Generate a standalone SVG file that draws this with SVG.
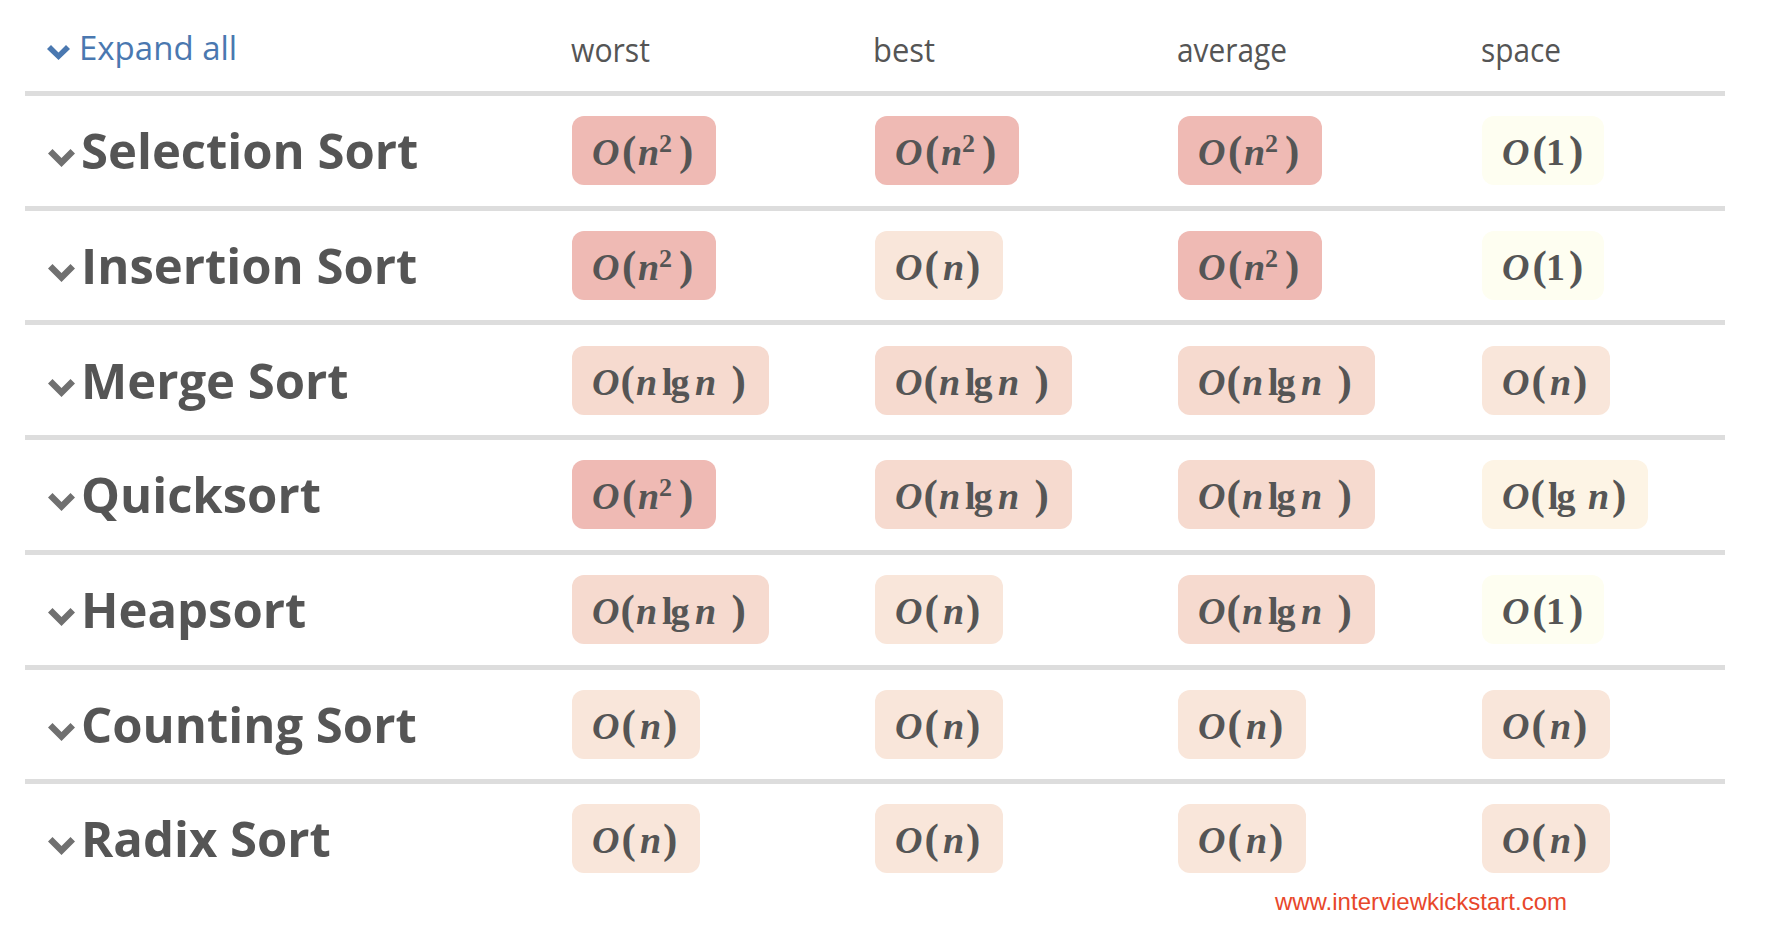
<svg xmlns="http://www.w3.org/2000/svg" width="1776" height="938" viewBox="0 0 1776 938">
<style>
.hd{font-family:"Open Sans","Noto Sans",sans-serif;font-size:32px;fill:#555}
.ex{font-family:"Open Sans","Noto Sans",sans-serif;font-size:33px;fill:#4a78b0}
.lb{font-family:"Open Sans","Noto Sans",sans-serif;font-size:49px;font-weight:bold;fill:#555}
.m{font-family:"Liberation Serif",serif;font-size:38px;font-weight:bold;fill:#555}
.i{font-style:italic}
.p{font-size:43px}
.sup{font-size:26px}
.sep{fill:#dddddd}
.chev{fill:#707070}
.b-n2{fill:#efbab4}
.b-nlgn{fill:#f6dacf}
.b-n{fill:#f9e6da}
.b-lgn{fill:#fdf4e5}
.b-1{fill:#fefef1}
.wm{font-family:"Liberation Sans",Arial,sans-serif;font-size:24px;fill:#e8472b}
</style>
<rect width="1776" height="938" fill="#ffffff"/>

<g id="header">
<polygon points="47,49 51,45 58.5,52.5 66,45 70,49 58.5,60" fill="#4a78b0"/>
<text class="ex" x="79" y="60">Expand all</text>
<text class="hd" x="571" y="62" textLength="79" lengthAdjust="spacingAndGlyphs">worst</text>
<text class="hd" x="873" y="62" textLength="62" lengthAdjust="spacingAndGlyphs">best</text>
<text class="hd" x="1177" y="62" textLength="110" lengthAdjust="spacingAndGlyphs">average</text>
<text class="hd" x="1481" y="62" textLength="80" lengthAdjust="spacingAndGlyphs">space</text>
</g>

<g id="separators">
<rect class="sep" x="25" y="91" width="1700" height="5"/>
<rect class="sep" x="25" y="206" width="1700" height="5"/>
<rect class="sep" x="25" y="320" width="1700" height="5"/>
<rect class="sep" x="25" y="435" width="1700" height="5"/>
<rect class="sep" x="25" y="550" width="1700" height="5"/>
<rect class="sep" x="25" y="665" width="1700" height="5"/>
<rect class="sep" x="25" y="779" width="1700" height="5"/>
</g>

<g id="row-selection">
<polygon class="chev" points="48,153.5 52.5,149 61.5,158 70.5,149 75,153.5 61.5,167"/>
<text class="lb" x="81" y="169">Selection Sort</text>
<g transform="translate(572,116)"><rect class="b-n2" width="144" height="69" rx="12"/><text class="m" y="48.5"><tspan class="i" x="20">O</tspan><tspan class="p" x="50">(</tspan><tspan class="i" x="66">n</tspan><tspan class="sup" x="87" y="35.5">2</tspan><tspan class="p" x="107" y="48.5">)</tspan></text></g>
<g transform="translate(875,116)"><rect class="b-n2" width="144" height="69" rx="12"/><text class="m" y="48.5"><tspan class="i" x="20">O</tspan><tspan class="p" x="50">(</tspan><tspan class="i" x="66">n</tspan><tspan class="sup" x="87" y="35.5">2</tspan><tspan class="p" x="107" y="48.5">)</tspan></text></g>
<g transform="translate(1178,116)"><rect class="b-n2" width="144" height="69" rx="12"/><text class="m" y="48.5"><tspan class="i" x="20">O</tspan><tspan class="p" x="50">(</tspan><tspan class="i" x="66">n</tspan><tspan class="sup" x="87" y="35.5">2</tspan><tspan class="p" x="107" y="48.5">)</tspan></text></g>
<g transform="translate(1482,116)"><rect class="b-1" width="122" height="69" rx="12"/><text class="m" y="48.5"><tspan class="i" x="20">O</tspan><tspan class="p" x="50.5">(</tspan><tspan x="64">1</tspan><tspan class="p" x="87">)</tspan></text></g>
</g>

<g id="row-insertion">
<polygon class="chev" points="48,268.5 52.5,264 61.5,273 70.5,264 75,268.5 61.5,282"/>
<text class="lb" x="81" y="284">Insertion Sort</text>
<g transform="translate(572,231)"><rect class="b-n2" width="144" height="69" rx="12"/><text class="m" y="48.5"><tspan class="i" x="20">O</tspan><tspan class="p" x="50">(</tspan><tspan class="i" x="66">n</tspan><tspan class="sup" x="87" y="35.5">2</tspan><tspan class="p" x="107" y="48.5">)</tspan></text></g>
<g transform="translate(875,231)"><rect class="b-n" width="128" height="69" rx="12"/><text class="m" y="48.5"><tspan class="i" x="20">O</tspan><tspan class="p" x="49.5">(</tspan><tspan class="i" x="68">n</tspan><tspan class="p" x="91">)</tspan></text></g>
<g transform="translate(1178,231)"><rect class="b-n2" width="144" height="69" rx="12"/><text class="m" y="48.5"><tspan class="i" x="20">O</tspan><tspan class="p" x="50">(</tspan><tspan class="i" x="66">n</tspan><tspan class="sup" x="87" y="35.5">2</tspan><tspan class="p" x="107" y="48.5">)</tspan></text></g>
<g transform="translate(1482,231)"><rect class="b-1" width="122" height="69" rx="12"/><text class="m" y="48.5"><tspan class="i" x="20">O</tspan><tspan class="p" x="50.5">(</tspan><tspan x="64">1</tspan><tspan class="p" x="87">)</tspan></text></g>
</g>

<g id="row-merge">
<polygon class="chev" points="48,383.5 52.5,379 61.5,388 70.5,379 75,383.5 61.5,397"/>
<text class="lb" x="81" y="399">Merge Sort</text>
<g transform="translate(572,346)"><rect class="b-nlgn" width="197" height="69" rx="12"/><text class="m" y="48.5"><tspan class="i" x="20">O</tspan><tspan class="p" x="48.5">(</tspan><tspan class="i" x="64">n</tspan><tspan x="90">l</tspan><tspan x="98.5">g</tspan><tspan class="i" x="123">n</tspan><tspan class="p" x="159.5">)</tspan></text></g>
<g transform="translate(875,346)"><rect class="b-nlgn" width="197" height="69" rx="12"/><text class="m" y="48.5"><tspan class="i" x="20">O</tspan><tspan class="p" x="48.5">(</tspan><tspan class="i" x="64">n</tspan><tspan x="90">l</tspan><tspan x="98.5">g</tspan><tspan class="i" x="123">n</tspan><tspan class="p" x="159.5">)</tspan></text></g>
<g transform="translate(1178,346)"><rect class="b-nlgn" width="197" height="69" rx="12"/><text class="m" y="48.5"><tspan class="i" x="20">O</tspan><tspan class="p" x="48.5">(</tspan><tspan class="i" x="64">n</tspan><tspan x="90">l</tspan><tspan x="98.5">g</tspan><tspan class="i" x="123">n</tspan><tspan class="p" x="159.5">)</tspan></text></g>
<g transform="translate(1482,346)"><rect class="b-n" width="128" height="69" rx="12"/><text class="m" y="48.5"><tspan class="i" x="20">O</tspan><tspan class="p" x="49.5">(</tspan><tspan class="i" x="68">n</tspan><tspan class="p" x="91">)</tspan></text></g>
</g>

<g id="row-quicksort">
<polygon class="chev" points="48,497.5 52.5,493 61.5,502 70.5,493 75,497.5 61.5,511"/>
<text class="lb" x="81" y="513">Quicksort</text>
<g transform="translate(572,460)"><rect class="b-n2" width="144" height="69" rx="12"/><text class="m" y="48.5"><tspan class="i" x="20">O</tspan><tspan class="p" x="50">(</tspan><tspan class="i" x="66">n</tspan><tspan class="sup" x="87" y="35.5">2</tspan><tspan class="p" x="107" y="48.5">)</tspan></text></g>
<g transform="translate(875,460)"><rect class="b-nlgn" width="197" height="69" rx="12"/><text class="m" y="48.5"><tspan class="i" x="20">O</tspan><tspan class="p" x="48.5">(</tspan><tspan class="i" x="64">n</tspan><tspan x="90">l</tspan><tspan x="98.5">g</tspan><tspan class="i" x="123">n</tspan><tspan class="p" x="159.5">)</tspan></text></g>
<g transform="translate(1178,460)"><rect class="b-nlgn" width="197" height="69" rx="12"/><text class="m" y="48.5"><tspan class="i" x="20">O</tspan><tspan class="p" x="48.5">(</tspan><tspan class="i" x="64">n</tspan><tspan x="90">l</tspan><tspan x="98.5">g</tspan><tspan class="i" x="123">n</tspan><tspan class="p" x="159.5">)</tspan></text></g>
<g transform="translate(1482,460)"><rect class="b-lgn" width="166" height="69" rx="12"/><text class="m" y="48.5"><tspan class="i" x="20">O</tspan><tspan class="p" x="48.5">(</tspan><tspan x="66">l</tspan><tspan x="74.5">g</tspan><tspan class="i" x="106">n</tspan><tspan class="p" x="130">)</tspan></text></g>
</g>

<g id="row-heapsort">
<polygon class="chev" points="48,612.5 52.5,608 61.5,617 70.5,608 75,612.5 61.5,626"/>
<text class="lb" x="81" y="628">Heapsort</text>
<g transform="translate(572,575)"><rect class="b-nlgn" width="197" height="69" rx="12"/><text class="m" y="48.5"><tspan class="i" x="20">O</tspan><tspan class="p" x="48.5">(</tspan><tspan class="i" x="64">n</tspan><tspan x="90">l</tspan><tspan x="98.5">g</tspan><tspan class="i" x="123">n</tspan><tspan class="p" x="159.5">)</tspan></text></g>
<g transform="translate(875,575)"><rect class="b-n" width="128" height="69" rx="12"/><text class="m" y="48.5"><tspan class="i" x="20">O</tspan><tspan class="p" x="49.5">(</tspan><tspan class="i" x="68">n</tspan><tspan class="p" x="91">)</tspan></text></g>
<g transform="translate(1178,575)"><rect class="b-nlgn" width="197" height="69" rx="12"/><text class="m" y="48.5"><tspan class="i" x="20">O</tspan><tspan class="p" x="48.5">(</tspan><tspan class="i" x="64">n</tspan><tspan x="90">l</tspan><tspan x="98.5">g</tspan><tspan class="i" x="123">n</tspan><tspan class="p" x="159.5">)</tspan></text></g>
<g transform="translate(1482,575)"><rect class="b-1" width="122" height="69" rx="12"/><text class="m" y="48.5"><tspan class="i" x="20">O</tspan><tspan class="p" x="50.5">(</tspan><tspan x="64">1</tspan><tspan class="p" x="87">)</tspan></text></g>
</g>

<g id="row-counting">
<polygon class="chev" points="48,727.5 52.5,723 61.5,732 70.5,723 75,727.5 61.5,741"/>
<text class="lb" x="81" y="743">Counting Sort</text>
<g transform="translate(572,690)"><rect class="b-n" width="128" height="69" rx="12"/><text class="m" y="48.5"><tspan class="i" x="20">O</tspan><tspan class="p" x="49.5">(</tspan><tspan class="i" x="68">n</tspan><tspan class="p" x="91">)</tspan></text></g>
<g transform="translate(875,690)"><rect class="b-n" width="128" height="69" rx="12"/><text class="m" y="48.5"><tspan class="i" x="20">O</tspan><tspan class="p" x="49.5">(</tspan><tspan class="i" x="68">n</tspan><tspan class="p" x="91">)</tspan></text></g>
<g transform="translate(1178,690)"><rect class="b-n" width="128" height="69" rx="12"/><text class="m" y="48.5"><tspan class="i" x="20">O</tspan><tspan class="p" x="49.5">(</tspan><tspan class="i" x="68">n</tspan><tspan class="p" x="91">)</tspan></text></g>
<g transform="translate(1482,690)"><rect class="b-n" width="128" height="69" rx="12"/><text class="m" y="48.5"><tspan class="i" x="20">O</tspan><tspan class="p" x="49.5">(</tspan><tspan class="i" x="68">n</tspan><tspan class="p" x="91">)</tspan></text></g>
</g>

<g id="row-radix">
<polygon class="chev" points="48,841.5 52.5,837 61.5,846 70.5,837 75,841.5 61.5,855"/>
<text class="lb" x="81" y="857">Radix Sort</text>
<g transform="translate(572,804)"><rect class="b-n" width="128" height="69" rx="12"/><text class="m" y="48.5"><tspan class="i" x="20">O</tspan><tspan class="p" x="49.5">(</tspan><tspan class="i" x="68">n</tspan><tspan class="p" x="91">)</tspan></text></g>
<g transform="translate(875,804)"><rect class="b-n" width="128" height="69" rx="12"/><text class="m" y="48.5"><tspan class="i" x="20">O</tspan><tspan class="p" x="49.5">(</tspan><tspan class="i" x="68">n</tspan><tspan class="p" x="91">)</tspan></text></g>
<g transform="translate(1178,804)"><rect class="b-n" width="128" height="69" rx="12"/><text class="m" y="48.5"><tspan class="i" x="20">O</tspan><tspan class="p" x="49.5">(</tspan><tspan class="i" x="68">n</tspan><tspan class="p" x="91">)</tspan></text></g>
<g transform="translate(1482,804)"><rect class="b-n" width="128" height="69" rx="12"/><text class="m" y="48.5"><tspan class="i" x="20">O</tspan><tspan class="p" x="49.5">(</tspan><tspan class="i" x="68">n</tspan><tspan class="p" x="91">)</tspan></text></g>
</g>

<text id="watermark" class="wm" x="1567" y="910" text-anchor="end">www.interviewkickstart.com</text>
</svg>
